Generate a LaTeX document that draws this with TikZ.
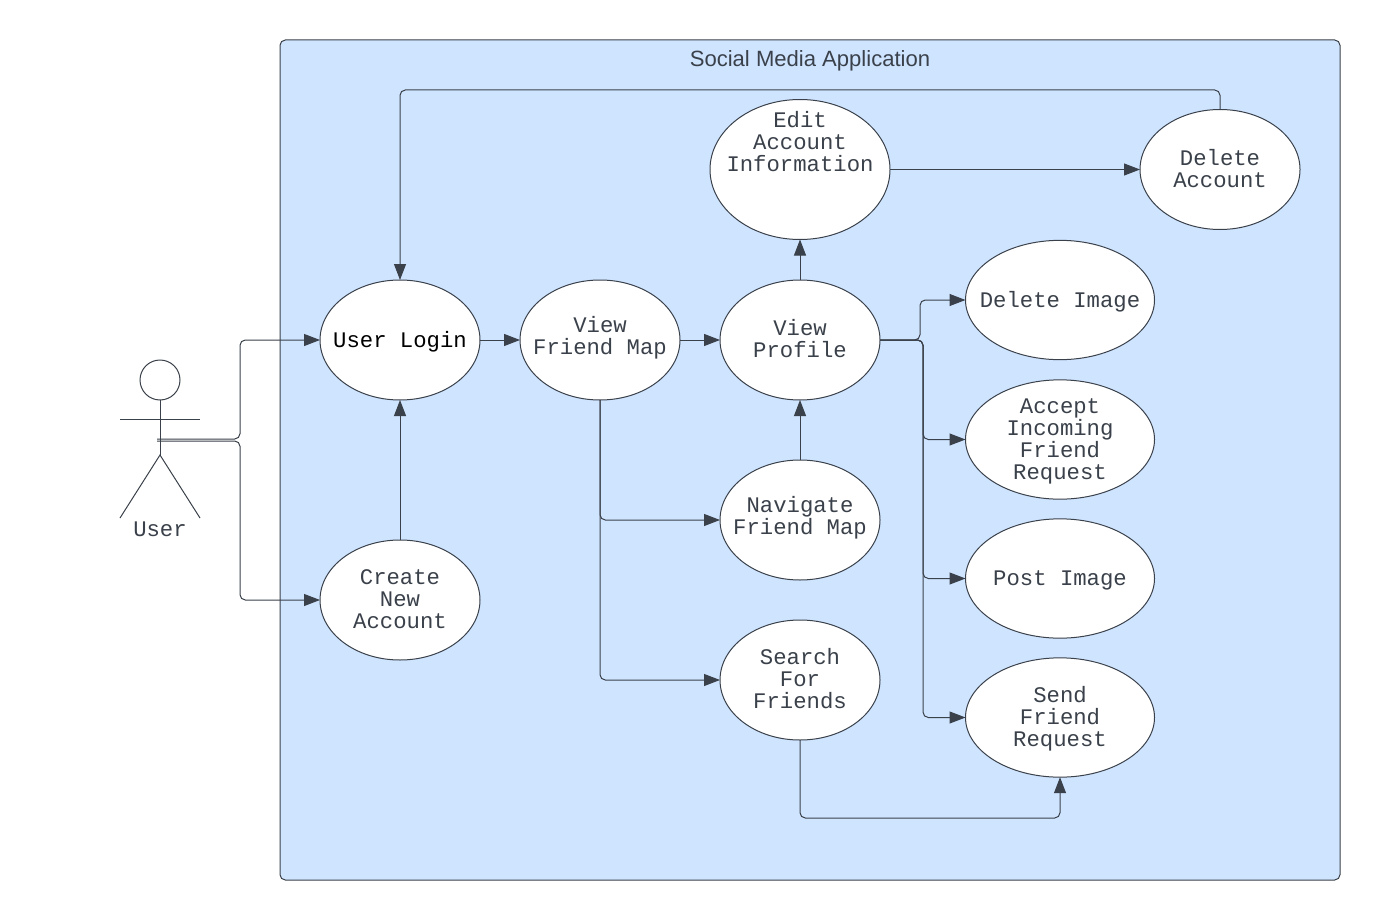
\documentclass[tikz,border=0pt]{standalone}
\usepackage{fontspec}
\setmainfont{Liberation Sans}
\setmonofont{Liberation Mono}
\usetikzlibrary{arrows.meta, shapes.geometric}
\definecolor{inkgrey}{HTML}{3A414A}
\definecolor{panelblue}{HTML}{CFE4FF}
\tikzset{
    panel/.style={draw=inkgrey, fill=panelblue, line width=0.75pt, rounded corners=4pt},
    usecase/.style={ellipse, draw=inkgrey, fill=white, line width=0.75pt, inner sep=-40pt, outer sep=0pt,
        minimum width=120pt, minimum height=90pt, align=center, text=inkgrey,
        font=\ttfamily\fontsize{16.7}{16.5}\selectfont},
    wideuse/.style={usecase, minimum width=141.75pt, minimum height=89.5pt},
    flow/.style={draw=inkgrey, line width=0.75pt, rounded corners=4pt, -{Triangle[length=12pt, width=9pt]}},
    stick/.style={draw=inkgrey, line width=0.75pt},
}

\begin{document}
\begin{tikzpicture}[x=0.75pt, y=-0.75pt]
    \useasboundingbox (0,0) rectangle (1380,920);
    \path[panel] (280,40) rectangle (1340,880);
    \node[text=inkgrey, font=\fontsize{16.55}{20}\selectfont] (title) at (810,61) {Social Media Application};

    % actor
    \node[circle, stick, minimum size=30pt, inner sep=0pt, outer sep=0pt] (head) at (160,380) {};
    \coordinate (hip) at (160,455);
    \coordinate (armleft) at (120,419);
    \coordinate (armright) at (200,419);
    \coordinate (footleft) at (120,518);
    \coordinate (footright) at (200,518);
    \coordinate (handa) at (157,439);
    \coordinate (handb) at (157,441);
    \draw[stick] (head.south) -- (hip);
    \draw[stick] (armleft) -- (armright);
    \draw[stick] (footleft) -- (hip) -- (footright);
    \node[text=inkgrey, font=\ttfamily\fontsize{16.7}{16.5}\selectfont] (actor) at (160,529) {User};

    % use cases
    \node[usecase, text=black, text height=14pt] (login) at (400,340) {User Login};
    \node[usecase, text depth=1.5pt] (create) at (400,600) {Create\\New\\Account};
    \node[usecase, text depth=7.5pt] (map) at (600,340) {View\\Friend Map};
    \node[usecase, text depth=3pt] (profile) at (800,340) {View\\Profile};
    \node[usecase, minimum width=135pt, minimum height=105pt, text depth=42.5pt] (edit) at (800,169.5) {Edit\\Account\\Information};
    \node[usecase, text depth=1.8pt] (remove) at (1220,169.5) {Delete\\Account};
    \node[usecase, text depth=7.5pt] (navigate) at (800,520) {Navigate\\Friend Map};
    \node[usecase, text depth=3pt] (search) at (800,680) {Search\\For\\Friends};
    \node[wideuse, text height=14pt] (delimage) at (1060,300) {Delete Image};
    \node[wideuse, text height=63.5pt] (accept) at (1060,439.5) {Accept\\Incoming\\Friend\\Request};
    \node[wideuse, text height=14pt] (post) at (1060,578.5) {Post Image};
    \node[wideuse, text height=47pt] (send) at (1060,717.5) {Send\\Friend\\Request};

    % connectors
    \draw[flow] (handa) -- (240,439) |- (login.west);
    \draw[flow] (handb) -- (240,441) |- (create.west);
    \draw[flow] (create) -- (login);
    \draw[flow] (login) -- (map);
    \draw[flow] (map) -- (profile);
    \draw[flow] (profile) -- (edit);
    \draw[flow] (edit.east) -- (remove.west);
    \draw[flow] (remove.north) |- (400,90) -- (login.north);
    \draw[flow] (navigate) -- (profile);
    \draw[flow] (map.south) |- (navigate.west);
    \draw[flow] (map.south) |- (search.west);
    \draw[flow] (search.south) |- (1060,818) -- (send.south);
    \draw[flow] (profile.east) -- (920,340) |- (delimage.west);
    \draw[flow] (profile.east) -- (923,340) |- (accept.west);
    \draw[flow] (profile.east) -- (923,340) |- (post.west);
    \draw[flow] (profile.east) -- (923,340) |- (send.west);
\end{tikzpicture}
\end{document}
